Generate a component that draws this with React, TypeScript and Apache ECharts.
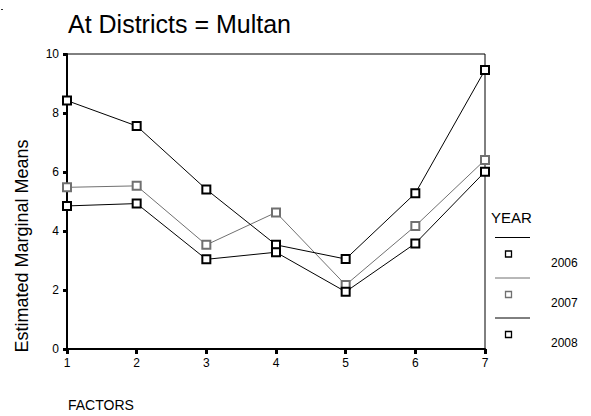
import React, { useEffect, useRef } from "react";
import * as echarts from "echarts";

const factors = ["1", "2", "3", "4", "5", "6", "7"];
const years = ["2006", "2007", "2008"];
const values2006 = [8.42, 7.56, 5.41, 3.53, 3.05, 5.28, 9.46];
const values2007 = [5.48, 5.53, 3.53, 4.63, 2.17, 4.17, 6.41];
const values2008 = [4.85, 4.93, 3.04, 3.28, 1.94, 3.58, 6.01];
const yearColors = ["#000000", "#707070", "#000000"];

export default function App() {
  const ref = useRef<HTMLDivElement>(null);
  useEffect(() => {
    if (!ref.current) return;
    const chart = echarts.init(ref.current, null, { renderer: "svg" });
    const font = "Liberation Sans, Arial, Helvetica, sans-serif";
    const seriesData = [values2006, values2007, values2008];
    const legendGraphics: any[] = [];
    const legendLineY = [237.5, 278, 318];
    years.forEach((y, i) => {
      const ly = legendLineY[i];
      legendGraphics.push({
        type: "line",
        shape: { x1: 495, y1: ly, x2: 530, y2: ly },
        style: { stroke: yearColors[i], lineWidth: 1 },
      });
      legendGraphics.push({
        type: "rect",
        shape: { x: 505.5, y: ly + 13.5, width: 6, height: 6 },
        style: { fill: "#fff", stroke: yearColors[i], lineWidth: 1.3 },
      });
      legendGraphics.push({
        type: "text",
        x: 551,
        y: ly + 25,
        style: {
          text: y,
          fill: "#000",
          font: `12px ${font}`,
          align: "left",
          verticalAlign: "middle",
        },
      });
    });
    chart.setOption({
      animation: false,
      backgroundColor: "#fff",
      title: {
        text: "At Districts = Multan",
        left: 63,
        top: 6,
        textStyle: { fontFamily: font, fontSize: 25, fontWeight: "normal", color: "#000" },
      },
      grid: {
        left: 67,
        right: 106,
        top: 54,
        bottom: 67,
        show: true,
        borderColor: "#000",
        borderWidth: 1,
        containLabel: false,
      },
      xAxis: {
        type: "category",
        data: factors,
        boundaryGap: false,
        axisLine: { show: true, lineStyle: { color: "#000", width: 2 } },
        axisTick: { show: true, alignWithLabel: true, length: 5, lineStyle: { color: "#000", width: 3 } },
        axisLabel: { color: "#000", fontSize: 12, fontFamily: font, margin: 8 },
        splitLine: { show: false },
      },
      yAxis: {
        type: "value",
        min: 0,
        max: 10,
        interval: 2,
        axisLine: { show: true, lineStyle: { color: "#000", width: 2 } },
        axisTick: { show: true, length: 4, lineStyle: { color: "#000", width: 3 } },
        axisLabel: { color: "#000", fontSize: 12, fontFamily: font, margin: 8 },
        splitLine: { show: false },
      },
      series: years.map((y, i) => ({
        name: y,
        type: "line",
        data: seriesData[i],
        symbol: "emptyRect",
        symbolSize: 8,
        lineStyle: { color: yearColors[i], width: 1 },
        itemStyle: { color: yearColors[i], borderColor: yearColors[i], borderWidth: 1.2 },
        z: i === 1 ? 2 : 3,
      })),
      graphic: [
        {
          type: "text",
          x: 22,
          y: 246,
          rotation: Math.PI / 2,
          style: {
            text: "Estimated Marginal Means",
            fill: "#000",
            font: `18px ${font}`,
            align: "center",
            verticalAlign: "middle",
          },
        },
        {
          type: "text",
          x: 68,
          y: 405,
          style: {
            text: "FACTORS",
            fill: "#000",
            font: `14px ${font}`,
            align: "left",
            verticalAlign: "middle",
          },
        },
        {
          type: "text",
          x: 491,
          y: 217,
          style: {
            text: "YEAR",
            fill: "#000",
            font: `15px ${font}`,
            align: "left",
            verticalAlign: "middle",
          },
        },
        {
          type: "rect",
          shape: { x: 1, y: 9, width: 2, height: 1 },
          style: { fill: "#333" },
        },
        ...legendGraphics,
      ],
    });
    return () => chart.dispose();
  }, []);
  return (
    <div
      ref={ref}
      style={{ position: "absolute", left: 0, top: 0, width: 591, height: 416 }}
    />
  );
}
